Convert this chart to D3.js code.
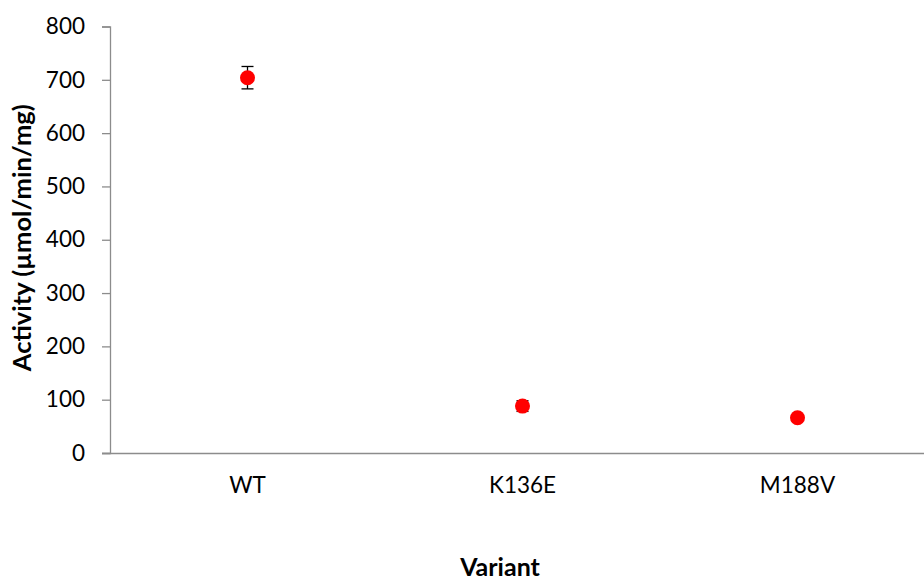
<!DOCTYPE html>
<html><head><meta charset="utf-8">
<script src="https://cdn.jsdelivr.net/npm/d3@7"></script>
<style>body{margin:0;background:#fff}svg{display:block}text{font-family:Lato,"Open Sans",sans-serif}</style>
</head><body><svg id="c" width="924" height="582"></svg>
<script>
const categories = ["WT", "K136E", "M188V"];
const activity = [704, 88, 66];
const errors = [21, 10, 4];
const yTicks = [0, 100, 200, 300, 400, 500, 600, 700, 800];

const svg = d3.select("#c");
const mLeft = 110, mRight = 935, mTop = 26.5, mBottom = 453;
const x = d3.scaleBand().domain(categories).range([mLeft, mRight]);
const y = d3.scaleLinear().domain([0, 800]).range([mBottom, mTop]);

const yAxis = svg.append("g").attr("transform", `translate(${mLeft},0)`)
  .call(d3.axisLeft(y).tickValues(yTicks).tickSize(8).tickPadding(17).tickFormat(d3.format("d")));
yAxis.select(".domain").attr("stroke", "#8c8c8c").attr("stroke-width", 1.3);
yAxis.selectAll(".tick line").attr("stroke", "#8c8c8c").attr("stroke-width", 1.3);
yAxis.selectAll(".tick text").attr("font-size", 22.5).attr("fill", "#000").attr("font-family", "Lato");

const xAxis = svg.append("g").attr("transform", `translate(0,${mBottom})`)
  .call(d3.axisBottom(x).tickSize(0).tickPadding(24));
xAxis.select(".domain").attr("stroke", "#8c8c8c").attr("stroke-width", 1.3).attr("d", `M${mLeft-8},0.5H${mRight}`);
xAxis.selectAll(".tick text").attr("font-size", 22.5).attr("fill", "#000").attr("font-family", "Lato");

const data = categories.map((c, i) => ({c, v: activity[i], e: errors[i]}));
const g = svg.append("g");
data.forEach(d => {
  const cx = x(d.c) + x.bandwidth() / 2;
  const y1 = y(d.v + d.e), y2 = y(d.v - d.e);
  g.append("line").attr("x1", cx).attr("x2", cx).attr("y1", y1).attr("y2", y2).attr("stroke", "#000").attr("stroke-width", 1.3);
  g.append("line").attr("x1", cx - 6).attr("x2", cx + 6).attr("y1", y1).attr("y2", y1).attr("stroke", "#000").attr("stroke-width", 1.3);
  g.append("line").attr("x1", cx - 6).attr("x2", cx + 6).attr("y1", y2).attr("y2", y2).attr("stroke", "#000").attr("stroke-width", 1.3);
});
g.selectAll("circle").data(data).join("circle")
  .attr("cx", d => x(d.c) + x.bandwidth() / 2)
  .attr("cy", d => y(d.v))
  .attr("r", 7.5)
  .attr("fill", "#ff0000");

svg.append("text").attr("x", 500).attr("y", 576).attr("text-anchor", "middle")
  .attr("font-size", 25).attr("font-weight", "bold").text("Variant");
svg.append("text").attr("transform", `translate(31,${(mTop + mBottom) / 2 - 2}) rotate(-90)`)
  .attr("text-anchor", "middle").attr("font-size", 25.5).attr("font-weight", "bold")
  .text("Activity (µmol/min/mg)");
</script></body></html>
